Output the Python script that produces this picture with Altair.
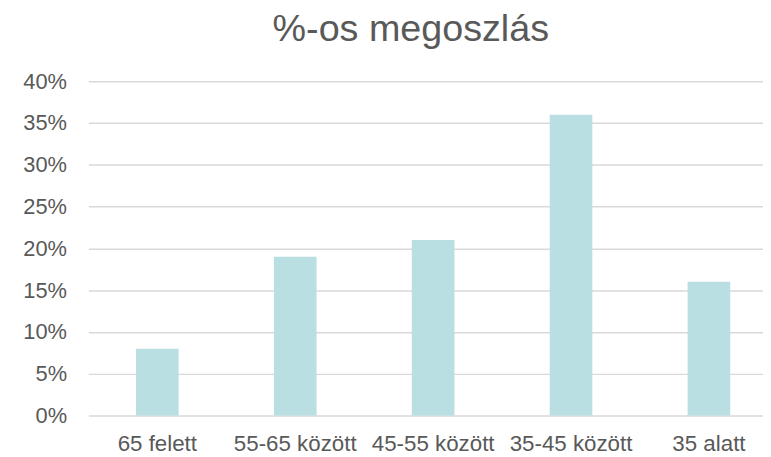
import altair as alt
import pandas as pd

categories = ["65 felett", "55-65 között", "45-55 között", "35-45 között", "35 alatt"]
values = [0.08, 0.19, 0.21, 0.36, 0.16]

df = pd.DataFrame({"cat": categories, "val": values})

FONT = "Liberation Sans"
TXT = "#595959"

chart = alt.Chart(df).mark_bar(size=43, color="#B9DFE2").encode(
    x=alt.X("cat:N", sort=categories,
            scale=alt.Scale(range=[0, 695], paddingInner=0, paddingOuter=0),
            axis=alt.Axis(title=None, labelAngle=0, ticks=False, domain=False,
                          labelFont=FONT, labelFontSize=22.5, labelColor=TXT,
                          labelPadding=17, grid=False)),
    y=alt.Y("val:Q", scale=alt.Scale(domain=[0, 0.4], nice=False),
            axis=alt.Axis(title=None, format=".0%", values=[0, 0.05, 0.1, 0.15, 0.2, 0.25, 0.3, 0.35, 0.4],
                          ticks=False, domain=False, labelFont=FONT, labelFontSize=22,
                          labelColor=TXT, labelPadding=22, gridColor="#D9D9D9",
                          gridWidth=1.5)),
).properties(
    width=680, height=337,
    title=alt.TitleParams("%-os megoszlás", font=FONT, fontSize=38, color=TXT,
                          fontWeight="normal", anchor="middle", dx=-15, offset=22),
    autosize=alt.AutoSizeParams(type="none"),
    padding={"left": 81, "top": 72, "right": 0, "bottom": 40},
).configure_view(stroke=None)

chart.save("out.html", embed_options={"renderer": "svg", "actions": False})
